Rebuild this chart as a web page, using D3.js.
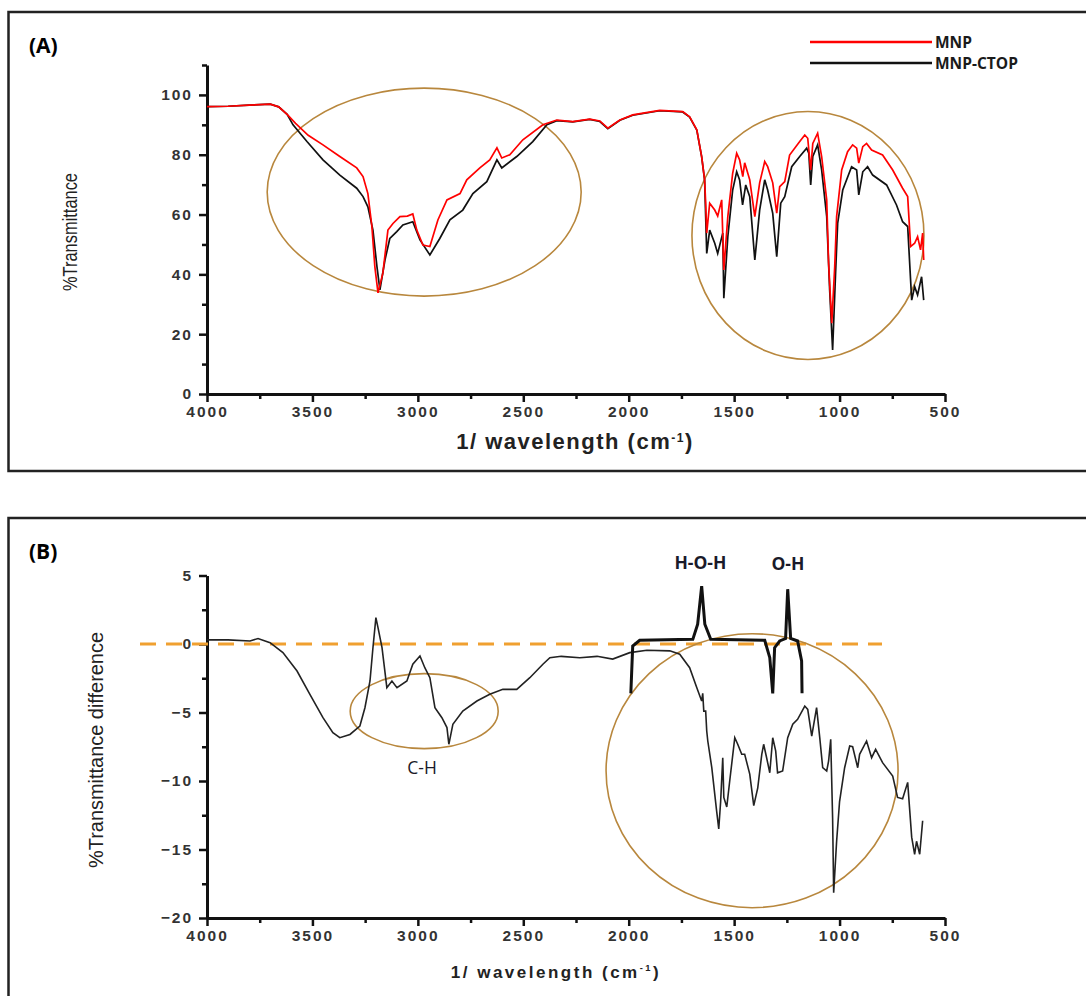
<!DOCTYPE html>
<html>
<head>
<meta charset="utf-8">
<script src="https://cdn.jsdelivr.net/npm/d3@7"></script>
<style>
  body { margin: 0; background: #fff; }
  .tick text { font-family: "Liberation Sans", Arial, sans-serif; font-weight: bold; fill: #333; }
</style>
</head>
<body>
<svg id="chart" width="1086" height="996"></svg>
<script>
// ---- data ----
var xTicks = [4000, 3500, 3000, 2500, 2000, 1500, 1000, 500];
var yTicksA = [0, 20, 40, 60, 80, 100];
var yTicksB = [-20, -15, -10, -5, 0, 5];

// panel A, MNP (red)
var mnpWn = [4000, 3900, 3800, 3700, 3660, 3620, 3580, 3520, 3450, 3370, 3290, 3260, 3237, 3218, 3204, 3189, 3166, 3142, 3118, 3085, 3050, 3024, 3005, 2976, 2943, 2905, 2862, 2800, 2768, 2706, 2659, 2625, 2602, 2564, 2502, 2407, 2341, 2265, 2185, 2137, 2099, 2042, 1981, 1853, 1744, 1711, 1677, 1654, 1640, 1635, 1630, 1616, 1592, 1578, 1559, 1549, 1530, 1507, 1488, 1474, 1459, 1450, 1426, 1402, 1379, 1355, 1341, 1317, 1298, 1284, 1260, 1237, 1189, 1165, 1151, 1137, 1127, 1104, 1085, 1061, 1052, 1037, 1023, 1014, 990, 962, 938, 919, 909, 890, 872, 848, 796, 748, 701, 677, 663, 644, 630, 616, 606, 601];
var mnpT = [96.1, 96.2, 96.6, 96.9, 96.0, 93.5, 90.5, 86.5, 83.3, 79.4, 75.6, 72.7, 67, 56, 42.6, 33.8, 40.4, 54.8, 57, 59.3, 59.5, 60.2, 54.8, 49.8, 49.3, 58.2, 64.9, 67, 71.6, 75.6, 78.3, 82.3, 78.9, 80, 85, 90, 91.6, 91.1, 91.9, 91.3, 88.9, 91.6, 93.3, 94.8, 94.4, 92.7, 88.3, 79.4, 71.6, 63.8, 53.8, 63.8, 61.5, 59.5, 64.9, 41.5, 59.3, 73.8, 80.5, 78.3, 72.7, 77.3, 71.6, 59.3, 70.6, 77.7, 76, 70.6, 60.5, 69.3, 71, 79.9, 84.4, 86.6, 85.5, 74.9, 83.8, 87.2, 79.4, 64.9, 43.7, 23.7, 42.6, 59.3, 74.9, 81, 83.3, 82.2, 77.2, 82.7, 83.8, 81.6, 79.9, 74.9, 68.8, 66, 49.3, 50.4, 52.6, 48.2, 53.8, 44.8];

// panel A, MNP-CTOP (black)
var ctopWn = [4000, 3900, 3800, 3700, 3660, 3620, 3592, 3526, 3450, 3370, 3290, 3260, 3237, 3213, 3194, 3180, 3156, 3133, 3100, 3071, 3024, 2990, 2943, 2896, 2848, 2787, 2739, 2673, 2625, 2602, 2531, 2455, 2388, 2341, 2265, 2185, 2137, 2099, 2042, 1981, 1853, 1744, 1711, 1677, 1654, 1640, 1635, 1630, 1616, 1592, 1578, 1554, 1549, 1530, 1507, 1488, 1474, 1460, 1445, 1426, 1402, 1379, 1355, 1341, 1317, 1298, 1279, 1260, 1227, 1189, 1156, 1146, 1137, 1127, 1104, 1085, 1061, 1047, 1033, 1019, 1009, 985, 943, 919, 909, 890, 867, 843, 777, 730, 701, 677, 658, 644, 630, 611, 601];
var ctopT = [96.1, 96.2, 96.6, 96.9, 96.0, 93.5, 90, 84.4, 78.3, 73.2, 68.8, 66, 62.6, 54.8, 42.6, 34.8, 44.8, 52, 54.3, 56.5, 57.6, 51.5, 46.5, 52, 58.2, 61.5, 67, 71, 78.3, 75.6, 79.4, 84.4, 90, 91.4, 91, 91.8, 91.1, 88.7, 91.5, 93.2, 94.7, 94.3, 92.6, 88.2, 79.3, 71.5, 59.3, 47, 54.8, 50.4, 47, 53.8, 32, 52.6, 68.2, 74.3, 71.6, 63.2, 69.9, 66, 44.8, 61.5, 71.6, 68.2, 60.4, 45.9, 63.8, 66, 76, 79.4, 82.2, 80.5, 69.9, 79.4, 83.3, 74.9, 59.3, 34.8, 14.7, 40.4, 57.1, 68.2, 76, 74.9, 66.6, 74.3, 76, 73.2, 69.9, 63.2, 57.6, 56, 31.4, 35.9, 33.1, 39.2, 31.4];

// panel B, transmittance difference
var diffWn = [4000, 3900, 3796, 3758, 3701, 3640, 3573, 3512, 3450, 3403, 3370, 3322, 3275, 3251, 3227, 3213, 3199, 3189, 3170, 3147, 3123, 3099, 3052, 3024, 2990, 2967, 2943, 2919, 2886, 2862, 2853, 2834, 2787, 2720, 2659, 2597, 2531, 2469, 2407, 2374, 2320, 2232, 2150, 2076, 1995, 1914, 1805, 1758, 1711, 1677, 1654, 1649, 1644, 1635, 1630, 1625, 1606, 1583, 1573, 1564, 1554, 1549, 1535, 1521, 1497, 1483, 1464, 1450, 1426, 1407, 1388, 1369, 1360, 1346, 1331, 1317, 1303, 1294, 1270, 1246, 1222, 1199, 1165, 1151, 1132, 1109, 1094, 1080, 1061, 1052, 1042, 1033, 1028, 1014, 1000, 976, 952, 938, 914, 905, 872, 848, 829, 796, 748, 725, 701, 677, 658, 644, 635, 620, 606];
var diffV = [0.3, 0.3, 0.22, 0.4, 0.1, -0.63, -1.97, -3.67, -5.38, -6.47, -6.84, -6.6, -5.99, -4.65, -2.7, -0.27, 1.92, 1.19, -0.27, -3.19, -2.7, -3.19, -2.7, -1.48, -0.88, -1.73, -2.46, -4.65, -5.38, -6.1, -7.32, -5.86, -4.89, -4.16, -3.67, -3.31, -3.31, -2.46, -1.48, -1.0, -0.9, -1.0, -0.9, -1.1, -0.63, -0.46, -0.5, -0.75, -1.73, -3.19, -4.16, -3.6, -4.9, -4.89, -6.35, -7.08, -9.03, -12.2, -13.5, -11.5, -8.3, -11.2, -11.9, -10, -6.84, -7.32, -8.05, -8.05, -9.5, -11.8, -10.5, -8.05, -7.32, -8.3, -9.4, -6.84, -7.8, -9.4, -9.27, -6.84, -5.86, -5.5, -4.53, -4.77, -6.72, -4.65, -6.84, -9.03, -9.27, -8.54, -6.96, -12.7, -18.15, -14.4, -11.5, -9.03, -7.45, -7.5, -9.03, -8.05, -7.08, -8.3, -7.69, -8.66, -9.64, -11.2, -11.3, -10.1, -14.1, -15.35, -14.4, -15.35, -12.9];

// panel B, H-O-H / O-H marker trace
var markWn = [1990, 1981, 1948, 1696, 1673, 1654, 1639, 1611, 1355, 1331, 1317, 1308, 1284, 1256, 1246, 1232, 1199, 1180, 1178];
var markV = [-3.6, -0.15, 0.27, 0.34, 1.44, 4.23, 1.44, 0.34, 0.27, -1.0, -3.6, -0.27, 0.22, 0.4, 4.0, 0.4, 0.22, -1.24, -3.6];

var svg = d3.select('#chart');
var ink = '#111';
var tan = '#b8873d';

// panel frames
svg.append('rect').attr('x', 8.5).attr('y', 12).attr('width', 1100).attr('height', 459)
  .attr('fill', 'none').attr('stroke', '#222').attr('stroke-width', 2.5);
svg.append('rect').attr('x', 8.5).attr('y', 518).attr('width', 1100).attr('height', 520)
  .attr('fill', 'none').attr('stroke', '#222').attr('stroke-width', 2.5);

// scales
var x = d3.scaleLinear().domain([4000, 500]).range([207, 945]);
var yA = d3.scaleLinear().domain([0, 110]).range([394, 65]);
var yB = d3.scaleLinear().domain([-20, 5]).range([918, 575.5]);

function minor(a, b, step) { return d3.range(a, b + 0.001, step); }

function drawAxes(y, yTicks, yMinor, xLabelY, xLabelSize, xLabelX) {
  var bottom = y.range()[0];
  // minor ticks
  svg.append('g').attr('transform', 'translate(0,' + bottom + ')')
    .call(d3.axisBottom(x).tickValues(minor(750, 3750, 500)).tickSize(5).tickFormat(''))
    .call(g => g.select('.domain').remove())
    .selectAll('line').attr('stroke', ink).attr('stroke-width', 2.5);
  svg.append('g').attr('transform', 'translate(207,0)')
    .call(d3.axisLeft(y).tickValues(yMinor).tickSize(5).tickFormat(''))
    .call(g => g.select('.domain').remove())
    .selectAll('line').attr('stroke', ink).attr('stroke-width', 2.5);

  // major x
  var gx = svg.append('g').attr('transform', 'translate(0,' + bottom + ')')
    .call(d3.axisBottom(x).tickValues(xTicks).tickFormat(d3.format('d'))
      .tickSize(8).tickSizeOuter(0).tickPadding(4));
  gx.select('.domain').attr('stroke', ink).attr('stroke-width', 3);
  gx.selectAll('line').attr('stroke', ink).attr('stroke-width', 2.5);
  gx.selectAll('text').attr('font-size', 15.5).attr('letter-spacing', 2);

  // major y
  var gy = svg.append('g').attr('transform', 'translate(207,0)')
    .call(d3.axisLeft(y).tickValues(yTicks).tickFormat(d3.format('d'))
      .tickSize(8).tickSizeOuter(0).tickPadding(6));
  gy.select('.domain').attr('stroke', ink).attr('stroke-width', 3);
  gy.selectAll('line').attr('stroke', ink).attr('stroke-width', 2.5);
  gy.selectAll('text').attr('font-size', 15.5).attr('letter-spacing', 2);

  svg.append('text').attr('x', xLabelX).attr('y', xLabelY)
    .attr('text-anchor', 'middle')
    .attr('font-family', '"Liberation Sans", Arial, sans-serif')
    .attr('font-weight', 'bold').attr('font-size', xLabelSize)
    .attr('letter-spacing', xLabelSize > 18 ? 1.5 : 2.5)
    .attr('fill', '#222')
    .html('1/ wavelength (cm<tspan dy="-7" font-size="' + (xLabelSize * 0.55) + '">-1</tspan><tspan dy="7">)</tspan>');
}

// ---------- panel A ----------
svg.append('text').attr('x', 29).attr('y', 53)
  .attr('font-family', '"Open Sans", "Liberation Sans", sans-serif')
  .attr('font-weight', 'bold').attr('font-size', 21).text('(A)');

drawAxes(yA, yTicksA, minor(10, 110, 20), 449, 22, 575);

svg.append('text')
  .attr('transform', 'translate(77,232) rotate(-90)')
  .attr('text-anchor', 'middle')
  .attr('font-family', '"Liberation Sans", Arial, sans-serif')
  .attr('font-size', 21).attr('fill', '#222')
  .attr('textLength', 118).attr('lengthAdjust', 'spacingAndGlyphs')
  .text('%Transmittance');

// circles around absorption regions
svg.append('ellipse').attr('cx', x(2970)).attr('cy', yA(67.5)).attr('rx', 157).attr('ry', 104)
  .attr('fill', 'none').attr('stroke', tan).attr('stroke-width', 1.6);
svg.append('ellipse').attr('cx', x(1150)).attr('cy', yA(53)).attr('rx', 116).attr('ry', 124)
  .attr('fill', 'none').attr('stroke', tan).attr('stroke-width', 1.6);

var lineA = d3.line().x(d => x(d[0])).y(d => yA(d[1]));
svg.append('path').datum(d3.zip(ctopWn, ctopT))
  .attr('fill', 'none').attr('stroke', ink).attr('stroke-width', 1.7).attr('d', lineA);
svg.append('path').datum(d3.zip(mnpWn, mnpT))
  .attr('fill', 'none').attr('stroke', '#ff0000').attr('stroke-width', 1.7).attr('d', lineA);

// legend
var legend = [['MNP', '#ff0000', 42], ['MNP-CTOP', ink, 63]];
legend.forEach(function (l) {
  svg.append('line').attr('x1', 810).attr('x2', 932).attr('y1', l[2]).attr('y2', l[2])
    .attr('stroke', l[1]).attr('stroke-width', 2.5);
  svg.append('text').attr('x', 935).attr('y', l[2] + 6)
    .attr('font-family', '"Open Sans", "Liberation Sans", sans-serif')
    .attr('font-weight', 'bold').attr('font-size', 15.5).attr('fill', '#1a1a1a').text(l[0]);
});

// ---------- panel B ----------
svg.append('text').attr('x', 29).attr('y', 559)
  .attr('font-family', '"Open Sans", "Liberation Sans", sans-serif')
  .attr('font-weight', 'bold').attr('font-size', 21).text('(B)');

drawAxes(yB, yTicksB, minor(-17.5, 2.5, 5), 978, 17, 556);

svg.append('text')
  .attr('transform', 'translate(103,750) rotate(-90)')
  .attr('text-anchor', 'middle')
  .attr('font-family', '"Liberation Sans", Arial, sans-serif')
  .attr('font-size', 21).attr('fill', '#222')
  .attr('textLength', 236).attr('lengthAdjust', 'spacingAndGlyphs')
  .text('%Transmittance difference');

// zero reference
svg.append('line').attr('x1', 140).attr('x2', 882).attr('y1', yB(0)).attr('y2', yB(0))
  .attr('stroke', '#f0a030').attr('stroke-width', 3).attr('stroke-dasharray', '16,10');

svg.append('ellipse').attr('cx', x(2970)).attr('cy', yB(-4.9)).attr('rx', 74).attr('ry', 37.5)
  .attr('fill', 'none').attr('stroke', tan).attr('stroke-width', 1.6);
svg.append('ellipse').attr('cx', x(1415)).attr('cy', yB(-9.25)).attr('rx', 146).attr('ry', 137)
  .attr('fill', 'none').attr('stroke', tan).attr('stroke-width', 1.6);

var lineB = d3.line().x(d => x(d[0])).y(d => yB(d[1]));
svg.append('path').datum(d3.zip(diffWn, diffV))
  .attr('fill', 'none').attr('stroke', '#222').attr('stroke-width', 1.6).attr('d', lineB);
svg.append('path').datum(d3.zip(markWn, markV))
  .attr('fill', 'none').attr('stroke', ink).attr('stroke-width', 3).attr('d', lineB);

// band labels
var labels = [['C-H', 2980, -9.5, 'normal'], ['H-O-H', 1660, 5.5, 'bold'], ['O-H', 1245, 5.4, 'bold']];
labels.forEach(function (l) {
  svg.append('text').attr('x', x(l[1])).attr('y', yB(l[2]))
    .attr('text-anchor', 'middle')
    .attr('font-family', '"Open Sans", "Liberation Sans", sans-serif')
    .attr('font-weight', l[3]).attr('font-size', 17.5).attr('fill', '#1a1a2a').text(l[0]);
});
</script>
</body>
</html>
